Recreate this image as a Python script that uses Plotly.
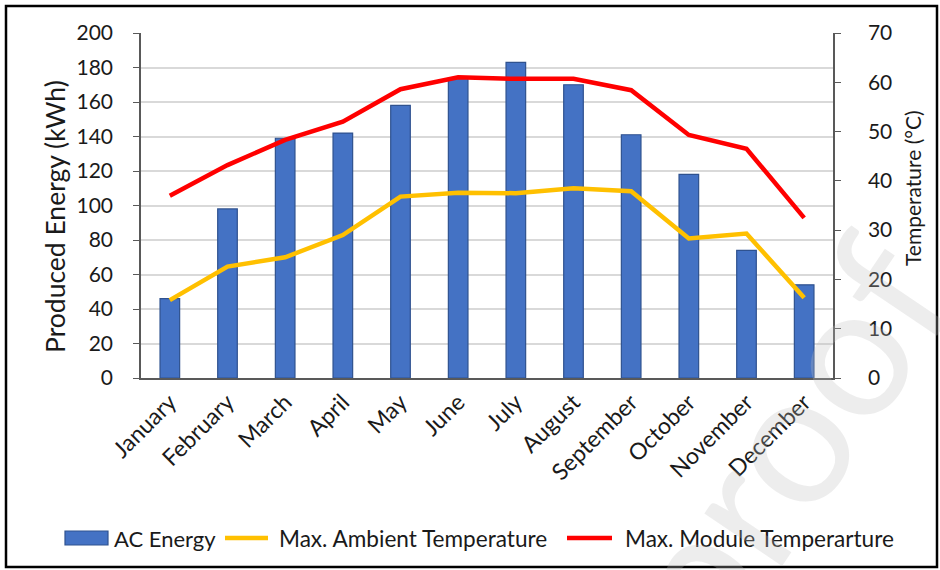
import plotly.graph_objects as go

months = ["January", "February", "March", "April", "May", "June", "July",
          "August", "September", "October", "November", "December"]
ac_energy = [46, 98, 139, 142, 158, 174, 183, 170, 141, 118, 74, 54]
max_ambient = [15.8, 22.6, 24.5, 29.0, 36.8, 37.6, 37.5, 38.5, 37.9, 28.3, 29.3, 16.3]
max_module = [37.0, 43.2, 48.3, 52.0, 58.6, 61.0, 60.7, 60.7, 58.4, 49.3, 46.5, 32.5]
series_names = ["AC Energy", "Max. Ambient Temperature", "Max. Module Temperarture"]

FONT = "Lato"
TXT = "#1a1a1a"
BAR_FILL, BAR_EDGE = "#4472C4", "#2F528F"
YELLOW, RED = "#FFC000", "#FF0000"

fig = go.Figure()
fig.add_trace(go.Bar(
    x=months, y=ac_energy, name=series_names[0],
    marker=dict(color=BAR_FILL, line=dict(color=BAR_EDGE, width=1.2)),
    yaxis="y",
))
fig.add_trace(go.Scatter(
    x=months, y=max_ambient, name=series_names[1],
    mode="lines", line=dict(color=YELLOW, width=4.5), yaxis="y2",
))
fig.add_trace(go.Scatter(
    x=months, y=max_module, name=series_names[2],
    mode="lines", line=dict(color=RED, width=4.5), yaxis="y2",
))

L, R, T, B = 141, 107, 33, 192
W, H = 940, 570
pw, ph = W - L - R, H - T - B

def px(x):
    return (x - L) / pw

def py(y):
    return (H - B - y) / ph

LEG_Y = 538
shapes = [
    dict(type="rect", xref="paper", yref="paper",
         x0=px(6), x1=px(937), y0=py(567), y1=py(6),
         line=dict(color="black", width=2.5), layer="above"),
    # legend swatches
    dict(type="rect", xref="paper", yref="paper",
         x0=px(65), x1=px(108), y0=py(545), y1=py(531),
         fillcolor=BAR_FILL, line=dict(color=BAR_EDGE, width=1.2)),
    dict(type="line", xref="paper", yref="paper",
         x0=px(225), x1=px(268), y0=py(LEG_Y), y1=py(LEG_Y),
         line=dict(color=YELLOW, width=4.5)),
    dict(type="line", xref="paper", yref="paper",
         x0=px(567), x1=px(612), y0=py(LEG_Y), y1=py(LEG_Y),
         line=dict(color=RED, width=4.5)),
]

legend_text_x = [112, 277, 623]
annotations = [
    dict(text=name, xref="paper", yref="paper", x=px(lx), y=py(LEG_Y),
         xanchor="left", yanchor="middle", showarrow=False,
         font=dict(size=22.6 if i else 22, family=FONT, color=TXT))
    for i, (name, lx) in enumerate(zip(series_names, legend_text_x))
]
annotations += [
    dict(text="Produced Energy (kWh)", xref="paper", yref="paper",
         x=px(55), y=py(217), xanchor="center", yanchor="middle",
         textangle=-90, showarrow=False,
         font=dict(size=26.5, family=FONT, color=TXT)),
    dict(text="Temperature (°C)", xref="paper", yref="paper",
         x=px(912), y=py(188), xanchor="center", yanchor="middle",
         textangle=-90, showarrow=False,
         font=dict(size=21, family=FONT, color=TXT)),
    dict(text="proof", xref="paper", yref="paper",
         x=px(780), y=py(440), xanchor="center", yanchor="middle",
         textangle=-56, showarrow=False,
         font=dict(size=185, family=FONT, color="rgba(190,190,190,0.28)")),
]

fig.update_layout(
    width=W, height=H,
    margin=dict(l=L, r=R, t=T, b=B, autoexpand=False),
    paper_bgcolor="white", plot_bgcolor="white",
    font=dict(family=FONT, color=TXT, size=21),
    bargap=0.66,
    showlegend=False,
    xaxis=dict(
        automargin=False,
        showline=True, linecolor="#595959", linewidth=1.5,
        tickangle=-45, tickfont=dict(size=23, family=FONT, color=TXT),
        ticks="", showgrid=False,
    ),
    yaxis=dict(
        automargin=False,
        range=[0, 200], dtick=20, showgrid=True, gridcolor="#D9D9D9", gridwidth=1.5,
        showline=True, linecolor="#595959", linewidth=1.5,
        ticks="outside", ticklen=6, tickcolor="#595959",
        ticklabelstandoff=16,
        tickfont=dict(size=21, family=FONT, color=TXT),
        zeroline=False,
    ),
    yaxis2=dict(
        automargin=False,
        range=[0, 70], dtick=10, overlaying="y", side="right", showgrid=False,
        showline=True, linecolor="#595959", linewidth=1.5,
        ticks="outside", ticklen=6, tickcolor="#595959",
        ticklabelstandoff=23,
        tickfont=dict(size=21, family=FONT, color=TXT),
        zeroline=False,
    ),
    shapes=shapes,
    annotations=annotations,
)

fig.write_html("out.html", config={"displayModeBar": False},
               post_script="document.body.style.margin='0';")
